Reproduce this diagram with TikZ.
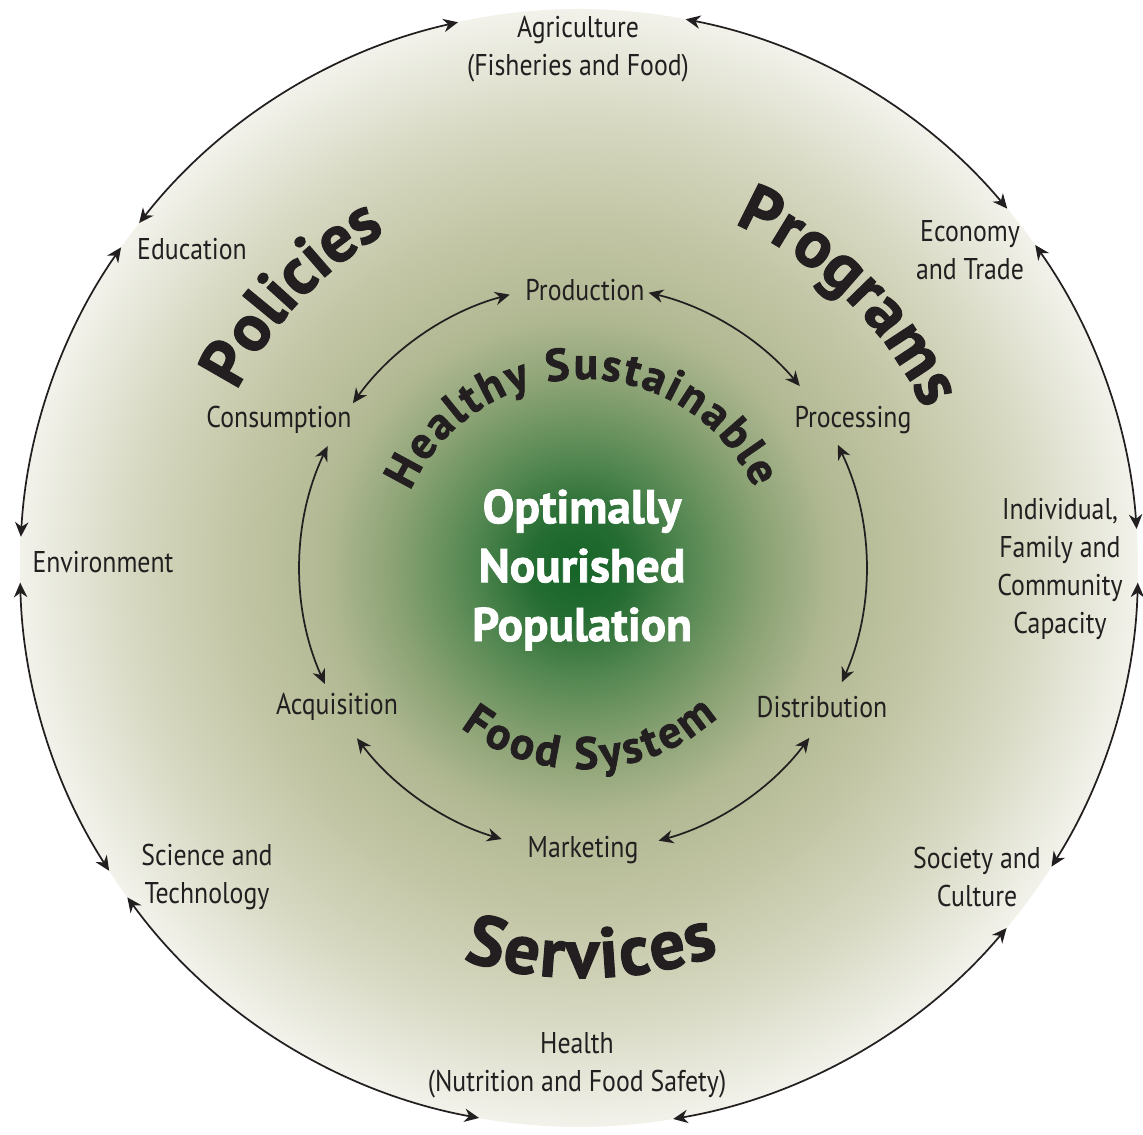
\documentclass[tikz,border=0pt]{standalone}
\usepackage{fontspec}
\setmainfont[FakeStretch=0.86]{PT Sans}
\newfontfamily\heavyfont[BoldFeatures={FakeBold=1.6}]{PT Sans}
\usetikzlibrary{arrows.meta,calc,decorations.text}
\definecolor{ink}{RGB}{35,31,32}
\definecolor{g0}{RGB}{22,100,40}
\definecolor{g1}{RGB}{36,108,50}
\definecolor{g2}{RGB}{85,136,82}
\definecolor{g3}{RGB}{138,162,116}
\definecolor{g4}{RGB}{176,184,146}
\definecolor{g5}{RGB}{193,196,162}
\definecolor{g6}{RGB}{214,216,193}
\definecolor{g7}{RGB}{242,242,235}
\pgfdeclareradialshading{disc}{\pgfpoint{0bp}{0bp}}{%
  color(0bp)=(g0); color(2.2bp)=(g1); color(5bp)=(g2); color(8.25bp)=(g3);
  color(11.25bp)=(g4); color(15bp)=(g5); color(20bp)=(g6); color(25bp)=(g7); color(50bp)=(g7)}
\newcommand{\lblfont}{\fontsize{22.5}{28.5}\selectfont}
\newcommand{\corefont}{\heavyfont\bfseries\fontsize{35.5}{44.2}\selectfont}
\newcommand{\bigword}{\heavyfont\bfseries\fontsize{50}{55}\selectfont}
\newcommand{\bigwordS}{\heavyfont\bfseries\fontsize{53}{58}\selectfont}
\newcommand{\ringword}{\heavyfont\bfseries\fontsize{34}{38}\selectfont}
\begin{document}
\begin{tikzpicture}[x=0.75pt,y=0.75pt,
  lbl/.style={font=\lblfont, text=ink, align=center, inner sep=0pt},
  corelbl/.style={font=\corefont, text=white, align=center, inner sep=0pt},
  biarrow/.style={draw=ink, line width=1.3pt,
    {Stealth[length=11pt,width=10pt,inset=3.5pt]}-{Stealth[length=11pt,width=10pt,inset=3.5pt]}},
  curved/.style={decorate, decoration={text along path, text color=ink, text align=center, text={#1}}},
  curvedfit/.style={decorate, decoration={text along path, text color=ink, text align={fit to path}, text={#1}}}]
\useasboundingbox (0,0) rectangle (1143,1135);
\coordinate (OC) at (579,567);
\coordinate (IC) at (583,567);
\shade[shading=disc] (OC) circle[radius=559];

% outer labels
\node[lbl] (agri) at (578,1086) {Agriculture\\(Fisheries and Food)};
\node[lbl] (econ) at (970,885) {Economy\\and Trade};
\node[lbl] (indiv) at (1060,566) {Individual,\\Family and\\Community\\Capacity};
\node[lbl] (soc) at (977,258) {Society and\\Culture};
\node[lbl] (health) at (577,70) {Health\\(Nutrition and Food Safety)};
\node[lbl] (sci) at (207,258) {Science and\\Technology};
\node[lbl] (env) at (103,573) {Environment};
\node[lbl] (educ) at (192,886) {Education};

% inner labels
\node[lbl] (prod) at (585,845) {Production};
\node[lbl] (proc) at (853,715) {Processing};
\node[lbl] (dist) at (822,428) {Distribution};
\node[lbl] (mark) at (583,285) {Marketing};
\node[lbl] (acq) at (337,428) {Acquisition};
\node[lbl] (cons) at (279,715) {Consumption};

% core
\node[corelbl] (core) at (582,565) {Optimally\\Nourished\\Population};

% outer ring connectors
\foreach \a/\b [count=\k] in {79/40, 35.3/4, -1.5/-32.3, -40.1/-80.3, -100.3/-143.9, -147.2/-178.5, 176.8/145, 141.9/102.5} {
  \coordinate (out\k) at ($(OC)+(\a:559)$);
  \draw[biarrow] (out\k) arc[start angle=\a, end angle=\b, radius=559];
}

% inner ring connectors
\foreach \a/\b [count=\k] in {76.6/40, 25.8/-23.8, -36.9/-74.5, -106.7/-143, -155.8/-205.5, 144.4/105} {
  \coordinate (in\k) at ($(IC)+(\a:283)$);
  \draw[biarrow] (in\k) arc[start angle=\a, end angle=\b, radius=283];
}

% curved words
\path[curved={|\bigword|Programs}] ($(IC)+(80.6:376)$) arc[start angle=80.6, end angle=10.6, radius=376];
\path[curved={|\bigword|Policies}] ($(IC)+(171.7:389)$) arc[start angle=171.7, end angle=101.7, radius=389];
\path[curvedfit={|\bigwordS|Services}] ($(IC)+(-107:410)$) arc[start angle=-107, end angle=-70.6, radius=410];
\path[curvedfit={|\ringword|Healthy Sustainable}] ($(IC)+(156:189)$) arc[start angle=156, end angle=25, radius=189];
\path[curvedfit={|\ringword|Food System}] ($(IC)+(-127.5:201)$) arc[start angle=-127.5, end angle=-48, radius=201];
\end{tikzpicture}
\end{document}
